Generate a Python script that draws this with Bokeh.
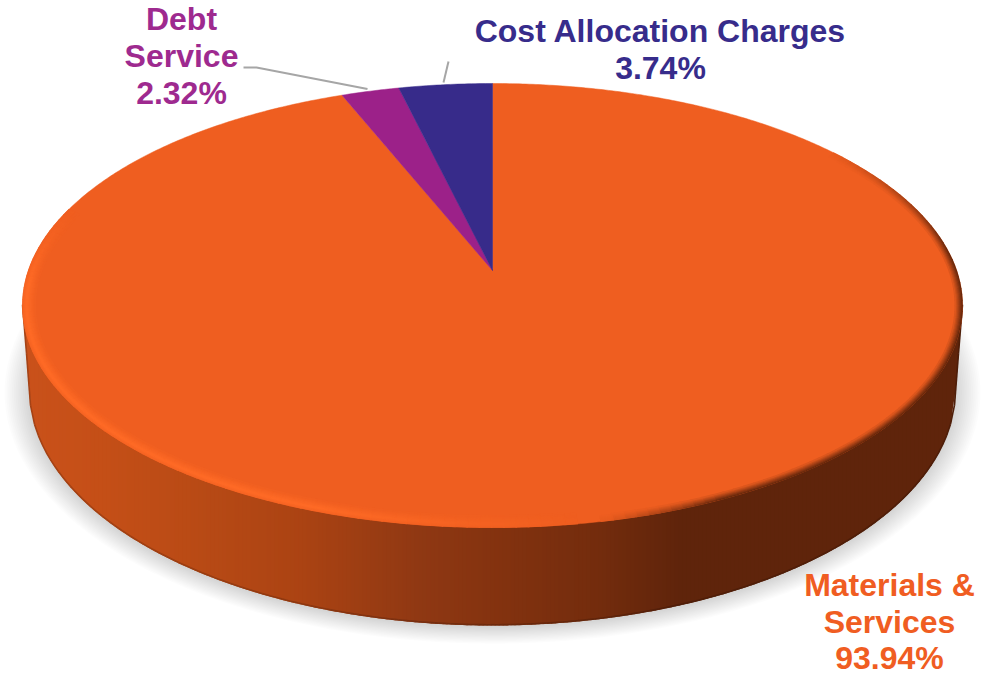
import numpy as np
from bokeh.plotting import figure
from bokeh.models import Range1d
from bokeh.core.properties import value
from bokeh.embed import file_html
from bokeh.resources import INLINE

categories = ["Materials & Services", "Debt Service", "Cost Allocation Charges"]
shares = [93.94, 2.32, 3.74]
percent_labels = ["93.94%", "2.32%", "3.74%"]
slice_colors = ["#EF5E20", "#9C2189", "#372B8A"]
label_colors = ["#F05D22", "#9E2A8F", "#372C8B"]

WIDTH, HEIGHT = 997, 675
CX, APEX_Y = 492.0, 270.0
TOP_Y, BOT_Y = 83.0, 527.0
RX = 470.0
ELL_CY, ELL_RY = 305.0, 222.0
LOW_CY, LOW_RX, LOW_RY = 390.0, 463.0, 235.0

k = ((APEX_Y - TOP_Y) - (BOT_Y - APEX_Y)) / ((APEX_Y - TOP_Y) + (BOT_Y - APEX_Y))
B = (APEX_Y - TOP_Y) * (1 - k)
A = RX * np.sqrt(1 - k * k)


def project(ang):
    """Clockwise angle from the top of the disc, to page position."""
    u, v = np.sin(ang), -np.cos(ang)
    w = 1 + k * v
    return CX + A * u / w, APEX_Y + B * v / w


def hex2rgb(h):
    return np.array([int(h[i:i + 2], 16) for i in (1, 3, 5)], float)


def rgb2hex(c):
    return "#%02x%02x%02x" % tuple(int(round(max(0, min(255, x)))) for x in c)


def mix(a, b, t):
    return rgb2hex(hex2rgb(a) * (1 - t) + hex2rgb(b) * t)


p = figure(width=WIDTH, height=HEIGHT, output_backend="svg", toolbar_location=None,
           x_range=Range1d(0, WIDTH), y_range=Range1d(HEIGHT, 0),
           x_axis_location=None, y_axis_location=None, min_border=0,
           outline_line_color=None, background_fill_color="white")
p.grid.visible = False

# soft shadow
t = np.linspace(0, 2 * np.pi, 240)
sx, sy = [], []
for i in range(14):
    sx.append(CX + (LOW_RX + 1 + i * 1.85) * np.cos(t))
    sy.append(LOW_CY + 2 + (LOW_RY + i * 1.25) * np.sin(t))
p.patches(sx, sy, fill_color="black", fill_alpha=0.011, line_color=None)


# side wall, in vertical strips
def lower_y(x):
    d = np.abs(x - CX)
    inside = LOW_CY + LOW_RY * np.sqrt(np.clip(1 - (d / LOW_RX) ** 2, 0, 1))
    outside = LOW_CY - (d - LOW_RX) / (RX - LOW_RX) * (LOW_CY - ELL_CY)
    return np.where(d <= LOW_RX, inside, outside)


stop_x = [30, 100, 200, 300, 420, 500, 600, 680, 962]
stop_c = ["#C9511A", "#C54F17", "#B84A15", "#AB4313", "#8F3813", "#83320F", "#732C0D", "#5F240B", "#5F240B"]
stop_rgb = np.array([hex2rgb(c) for c in stop_c])


def wall_color(x):
    return np.array([np.interp(x, stop_x, stop_rgb[:, j]) for j in range(3)])


edges = np.r_[np.arange(CX - RX, CX + RX, 4.0), CX + RX]
wx, wy, wc, ex, ey, ec = [], [], [], [], [], []
for a, b in zip(edges[:-1], edges[1:]):
    ya, yb = float(lower_y(a)), float(lower_y(b))
    right = min(b + 1, CX + RX)
    yr = float(lower_y(right))
    wx.append([a, right, right, a])
    wy.append([ELL_CY, ELL_CY, yr, ya])
    col = wall_color((a + b) / 2)
    wc.append(rgb2hex(col))
    ex.append([a, b])
    ey.append([ya - 0.8, yb - 0.8])
    ec.append(rgb2hex(col * 0.82))
p.patches(wx, wy, fill_color=wc, line_color=None)
p.multi_line(ex, ey, line_color=ec, line_width=1.6)

# top face: one wedge per share, clockwise from the top, last share first
fractions = np.array(shares) / sum(shares)
ends = 2 * np.pi * np.cumsum(fractions)
starts = ends - 2 * np.pi * fractions
for st, en, col in zip(starts, ends, slice_colors):
    ang = np.linspace(st, en, max(3, int((en - st) * 120)))
    x, y = project(ang)
    p.patch(np.r_[CX, x], np.r_[APEX_Y, y], fill_color=col, line_color=col, line_width=0.5)

# bevel round the rim of the large slice
BASE, LIGHT, DARK = slice_colors[0], "#FF6B26", "#5E240B"


def ramp(deg, a, b, c, d):
    return float(np.interp(deg, [a, b, c, d], [0, 1, 1, 0]))


step = 1.5
seg = np.radians(np.arange(0, 360, step))
rx_, ry_, rc_ = [], [], []
for inset in np.arange(0.5, 13.5, 1.0):
    peak = float(np.interp(inset, [0, 4, 12.5], [0.35, 1, 0]))
    dark = float(np.interp(inset, [0, 7.5], [1, 0]))
    for s in seg:
        deg = np.degrees(s)
        h = ramp(deg, 78, 112, 185, 205)
        dd = 0.0
        if deg < 78:
            dd = float(np.interp(deg, [60, 76], [1, 0]))
        elif deg > 315:
            dd = float(np.interp(deg, [315, 345], [0, 1]))
        if h * peak <= 0.01 and dd * dark <= 0.01:
            continue
        s2 = s + np.radians(step + 0.2)
        xs = [CX + (RX - inset * 1.1) * np.cos(s), CX + (RX - inset * 1.1) * np.cos(s2)]
        ys = [ELL_CY + (ELL_RY - inset) * np.sin(s), ELL_CY + (ELL_RY - inset) * np.sin(s2)]
        rx_.append(xs)
        ry_.append(ys)
        rc_.append(mix(BASE, DARK, dd * dark) if dd * dark > 0.01 else mix(BASE, LIGHT, h * peak))
p.multi_line(rx_, ry_, line_color=rc_, line_width=1.7)

# leader lines
p.line([243, 256, 367], [67, 67, 88.5], line_color="#A6A6A6", line_width=2)
p.line([448, 443], [61, 82], line_color="#A6A6A6", line_width=2)

# labels
lines = [
    ("Materials &", 889, 584, label_colors[0]),
    ("Services", 889, 621, label_colors[0]),
    (percent_labels[0], 889, 657, label_colors[0]),
    ("Debt", 181, 18, label_colors[1]),
    ("Service", 181, 55, label_colors[1]),
    (percent_labels[1], 181, 92, label_colors[1]),
    ("Cost Allocation Charges", 660, 30, label_colors[2]),
    (percent_labels[2], 660, 67, label_colors[2]),
]
for txt, x, y, col in lines:
    p.text([x], [y], text=[txt], text_color=col, text_font=value("Liberation Sans"),
           text_font_style="bold", text_font_size="32px", text_align="center",
           text_baseline="alphabetic")

open("out.html", "w").write(file_html(p, INLINE))
